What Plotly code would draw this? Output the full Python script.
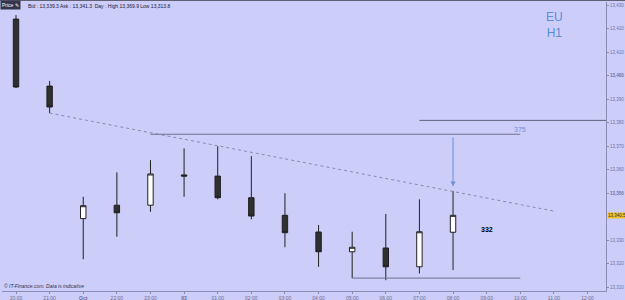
import plotly.graph_objects as go

# ---- data ----
time_labels = ["20:00", "21:00", "Oct", "22:00", "23:00", "03", "01:00", "02:00", "03:00",
               "04:00", "05:00", "06:00", "07:00", "08:00", "09:00", "10:00", "11:00", "12:00"]
opens  = [13424.0, 13395.5, 13339.1, 13344.8, 13344.8, 13357.7, 13357.2, 13348.0, 13340.5,
          13333.4, 13325.0, 13326.6, 13318.6, 13333.3]
highs  = [13425.7, 13397.7, 13348.4, 13358.8, 13364.0, 13369.0, 13369.9, 13365.7, 13349.9,
          13336.4, 13333.5, 13341.1, 13347.3, 13350.9]
lows   = [13394.7, 13384.0, 13321.8, 13331.4, 13342.0, 13348.4, 13347.3, 13338.8, 13326.9,
          13318.6, 13313.8, 13312.9, 13315.8, 13317.2]
closes = [13395.1, 13386.6, 13344.6, 13341.6, 13358.1, 13357.2, 13348.0, 13340.2, 13333.1,
          13325.0, 13326.9, 13318.6, 13333.5, 13340.5]

trend_x = [1, 16]
trend_y = [13384.0, 13342.3]
level375_x = [4, 15]
level375_y = [13375.0, 13375.0]
level381_x = [12, 18]
level381_y = [13380.9, 13380.9]
low_line_x = [10, 15]
low_line_y = [13313.8, 13313.8]
arrow_x = 13
arrow_from = 13374.3
arrow_to = 13352.8
label332 = (14, 13334.3, "332")
last_price = 13340.5

ytick_vals = [13310, 13320, 13330, 13350, 13360, 13370, 13380, 13390, 13400, 13410, 13420, 13430]
ytick_text = ["13,310", "13,320", "13,330", "<b>13,350</b>", "13,360", "13,370", "13,380",
              "13,390", "<b>13,400</b>", "13,410", "13,420", "13,430"]
xtick_text = [("<b>%s</b>" % t if t in ("Oct", "03") else t) for t in time_labels]

BG = "#cdcdfa"
AX = "#8c8cb0"
TF = "Liberation Sans"

fig = go.Figure()

fig.add_trace(go.Candlestick(
    x=list(range(len(opens))), open=opens, high=highs, low=lows, close=closes,
    increasing=dict(fillcolor="#ffffff", line=dict(color="#202020", width=1)),
    decreasing=dict(fillcolor="#303030", line=dict(color="#202020", width=1)),
    whiskerwidth=0, showlegend=False, hoverinfo="skip"))

fig.add_trace(go.Scatter(x=trend_x, y=trend_y, mode="lines",
                         line=dict(color="#8a8aa8", width=1, dash="dot"),
                         showlegend=False, hoverinfo="skip"))
fig.add_trace(go.Scatter(x=level375_x, y=level375_y, mode="lines",
                         line=dict(color="#70708c", width=1), showlegend=False, hoverinfo="skip"))
fig.add_trace(go.Scatter(x=level381_x, y=level381_y, mode="lines",
                         line=dict(color="#60607a", width=1), showlegend=False, hoverinfo="skip"))
fig.add_trace(go.Scatter(x=low_line_x, y=low_line_y, mode="lines",
                         line=dict(color="#70708c", width=1), showlegend=False, hoverinfo="skip"))

fig.update_layout(
    width=625, height=300, autosize=False,
    margin=dict(l=2, r=19, t=2, b=9),
    paper_bgcolor=BG, plot_bgcolor=BG,
    boxgap=0.77,
    font=dict(family=TF, size=5, color="#6c6c8c"),
    xaxis=dict(range=[-0.4165, 17.55], tickmode="array", tickvals=list(range(len(time_labels))),
               ticktext=xtick_text, showgrid=False, zeroline=False, showline=True,
               linecolor=AX, linewidth=1, ticks="outside", ticklen=2, tickcolor=AX,
               tickfont=dict(family=TF, size=5, color="#6c6c8c"),
               rangeslider=dict(visible=False), fixedrange=True, automargin=False),
    yaxis=dict(range=[13308.3, 13431.28], side="right", tickmode="array", tickvals=ytick_vals,
               ticktext=ytick_text, showgrid=False, zeroline=False, showline=True,
               linecolor=AX, linewidth=1, ticks="outside", ticklen=2, tickcolor=AX,
               tickfont=dict(family=TF, size=4.5, color="#7070a0"), fixedrange=True,
               automargin=False),
)

# arrow
fig.add_annotation(x=arrow_x, y=arrow_to, ax=arrow_x, ay=arrow_from, xref="x", yref="y",
                   axref="x", ayref="y", showarrow=True, arrowhead=2, arrowsize=1,
                   arrowwidth=1, arrowcolor="#6a90d8", text="")
fig.add_annotation(x=level375_x[1], y=level375_y[1], text="375", showarrow=False,
                   xanchor="center", yanchor="bottom", yshift=-1,
                   font=dict(family=TF, size=7, color="#6a90d8"))
fig.add_annotation(x=label332[0], y=label332[1], text="<b>%s</b>" % label332[2], showarrow=False,
                   xanchor="center", font=dict(family=TF, size=7, color="#000000"))
fig.add_annotation(x=0.915, y=0.92, xref="paper", yref="paper", text="EU<br>H1",
                   xanchor="center", yanchor="middle",
                   showarrow=False, align="center", font=dict(family=TF, size=12, color="#5b8ed6"))
# last price tag
fig.add_annotation(x=1, y=last_price, xref="paper", yref="y", xanchor="left", xshift=1,
                   text="13,340.5", showarrow=False, bgcolor="#f0c030", borderpad=0,
                   font=dict(family=TF, size=4.5, color="#303030"))
# header
fig.add_annotation(x=0, y=1, xref="paper", yref="paper", xanchor="left", yanchor="top",
                   xshift=-2, yshift=2, text="Price &#9998;", showarrow=False, bgcolor="#34344a",
                   borderpad=1, font=dict(family=TF, size=5, color="#ffffff"))
fig.add_annotation(x=0.04, y=1, xref="paper", yref="paper", xanchor="left", yanchor="top",
                   yshift=1,
                   text="Bid : 13,339.3 Ask : 13,341.3  Day : High 13,369.9 Low 13,313.8",
                   showarrow=False, font=dict(family=TF, size=5, color="#202030"))
# footer
fig.add_annotation(x=0, y=0, xref="paper", yref="paper", xanchor="left", yanchor="bottom",
                   text="<i>© IT-Finance.com. Data is indicative</i>", showarrow=False,
                   font=dict(family=TF, size=5, color="#303048"))
# top border
fig.add_shape(type="line", xref="paper", yref="paper", x0=-0.01, x1=1.04, y0=1.006, y1=1.006,
              line=dict(color="#40404f", width=1))

fig.write_html("out.html")
